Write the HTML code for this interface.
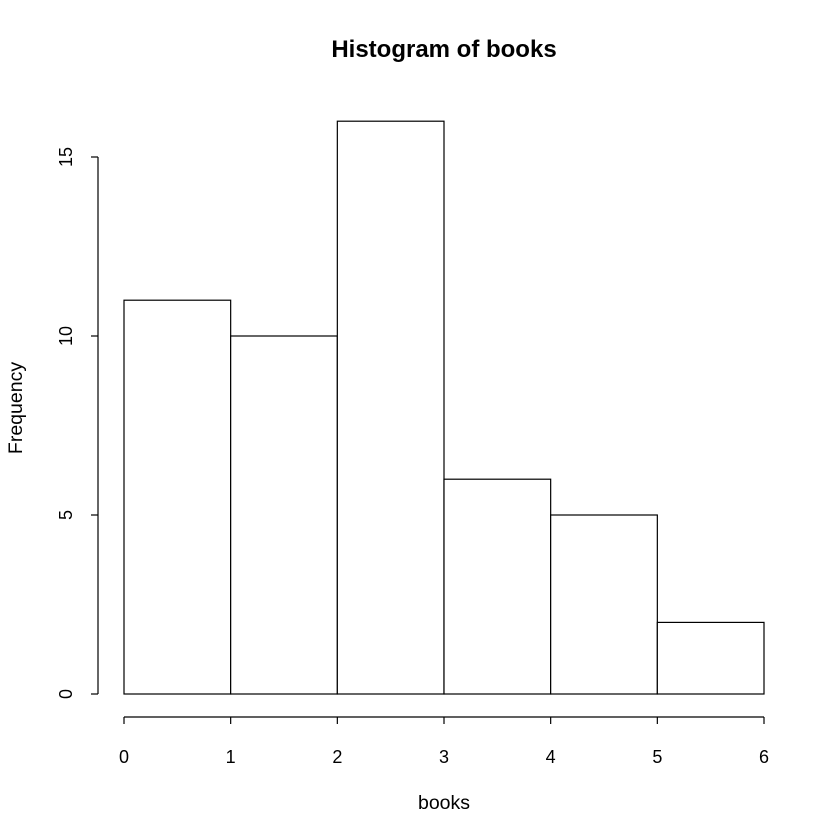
<!DOCTYPE html>
<html><head><meta charset="utf-8"><style>body{margin:0;background:#fff}svg{display:block}</style></head>
<body>
<svg id="chart" width="840" height="840" xmlns="http://www.w3.org/2000/svg" font-family="Liberation Sans, sans-serif">
<rect width="840" height="840" fill="#fff"/>
<text x="444" y="57" font-size="24" font-weight="bold" text-anchor="middle">Histogram of books</text>
<text x="444" y="809" font-size="19.5" text-anchor="middle">books</text>
<text transform="translate(22,408) rotate(-90)" font-size="19.5" text-anchor="middle">Frequency</text>
<g id="bars"></g><g id="xaxis"></g><g id="yaxis"></g>
</svg>
<script>
const binEdges = [0,1,2,3,4,5,6];
const counts = [11,10,16,6,5,2];
const xTicks = [0,1,2,3,4,5,6];
const yTicks = [0,5,10,15];
const NS='http://www.w3.org/2000/svg';
const xs = v => 124 + v*(764-124)/6;
const ys = v => 694 - v*(694-157)/15;
function mk(tag, attrs, parent){const e=document.createElementNS(NS,tag);for(const k in attrs)e.setAttribute(k,attrs[k]);parent.appendChild(e);return e;}
const bars=document.getElementById('bars');
counts.forEach((c,i)=>{
  const r=mk('rect',{x:xs(binEdges[i]),y:ys(c),width:xs(binEdges[i+1])-xs(binEdges[i]),height:ys(0)-ys(c),fill:'#fff',stroke:'#000','stroke-width':1.2},bars);
  
  
});
const xa=document.getElementById('xaxis');
const xl=mk('line',{x1:xs(xTicks[0]),x2:xs(xTicks[xTicks.length-1]),y1:717,y2:717,stroke:'#000','stroke-width':1.2},xa);


xTicks.forEach(t=>{
  mk('line',{x1:xs(t),x2:xs(t),y1:717,y2:724,stroke:'#000','stroke-width':1.2},xa);
  const tx=mk('text',{x:xs(t),y:763,'font-size':18,'text-anchor':'middle'},xa);
  tx.textContent=t;
  
  
});
const ya=document.getElementById('yaxis');
const yl=mk('line',{x1:98,x2:98,y1:ys(yTicks[0]),y2:ys(yTicks[yTicks.length-1]),stroke:'#000','stroke-width':1.2},ya);


yTicks.forEach(t=>{
  mk('line',{x1:91,x2:98,y1:ys(t),y2:ys(t),stroke:'#000','stroke-width':1.2},ya);
  const tx=mk('text',{transform:'translate(72,'+ys(t)+') rotate(-90)','font-size':18,'text-anchor':'middle'},ya);
  tx.textContent=t;
  
  
});
</script>
</body></html>
